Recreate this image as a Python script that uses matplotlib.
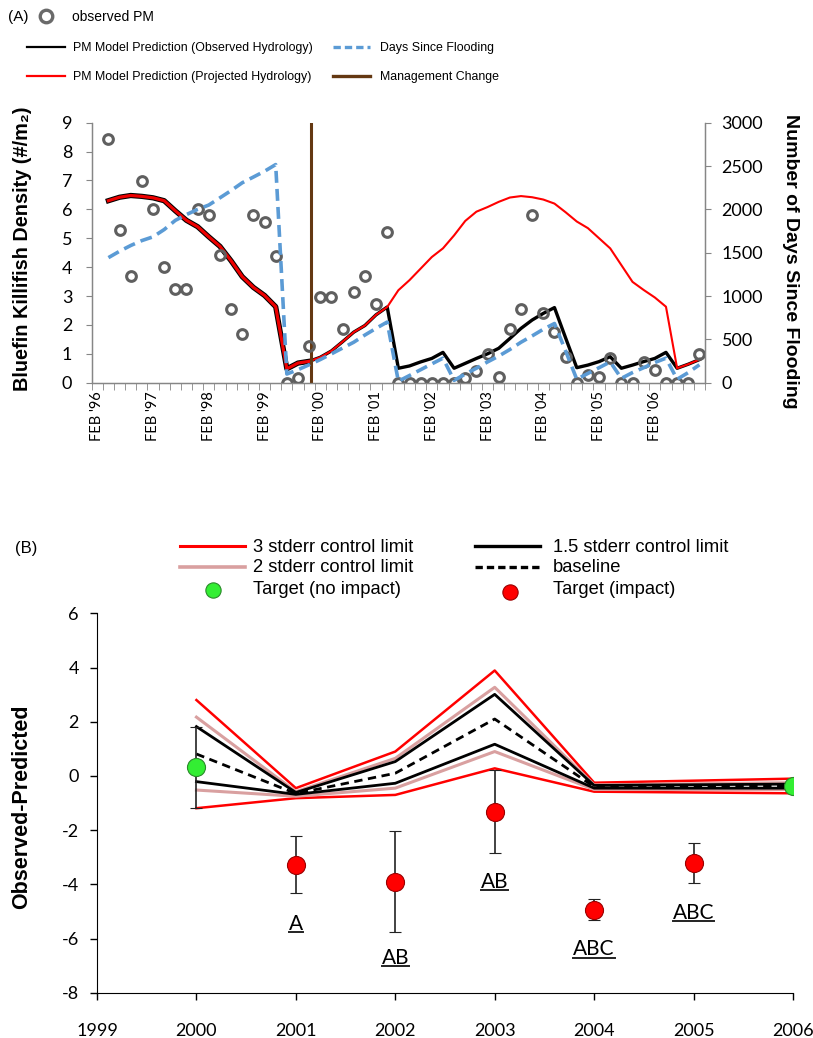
import numpy as np
import matplotlib.pyplot as plt
from matplotlib.lines import Line2D
import matplotlib.patheffects as pe

plt.rcParams['axes.unicode_minus'] = False

W, H = 813, 1038

# ---------------- Panel A data (one value per sampling event) ----------------
sample_idx = list(range(1, 55))
observed_pm = [8.42, 5.28, 3.70, 6.99, 6.00, 4.00, 3.26, 3.26, 6.00, 5.82,
               4.41, 2.56, 1.70, 5.82, 5.55, 4.39, 0.00, 0.15, 1.27, 2.98,
               2.98, 1.85, 3.14, 3.70, 2.71, 5.22, 0.00, 0.00, 0.00, 0.00,
               0.00, 0.00, 0.15, 0.40, 1.00, 0.20, 1.85, 2.56, 5.82, 2.42,
               1.76, 0.88, 0.00, 0.27, 0.20, 0.84, 0.00, 0.00, 0.70, 0.44,
               0.00, 0.00, 0.00, 0.98]
pm_obs_hydro = [6.30, 6.42, 6.48, 6.45, 6.40, 6.30, 5.95, 5.62, 5.40, 5.05,
                4.72, 4.22, 3.67, 3.30, 3.02, 2.63, 0.48, 0.68, 0.74, 0.88,
                1.10, 1.42, 1.75, 1.98, 2.35, 2.62, 0.50, 0.58, 0.72, 0.84,
                1.05, 0.50, 0.67, 0.84, 1.00, 1.19, 1.53, 1.88, 2.17, 2.40,
                2.60, 1.55, 0.52, 0.61, 0.73, 0.90, 0.50, 0.61, 0.73, 0.84,
                1.05, 0.50, 0.64, 0.80]
pm_proj_hydro = [6.30, 6.42, 6.48, 6.45, 6.40, 6.30, 5.95, 5.62, 5.40, 5.05,
                 4.72, 4.22, 3.67, 3.30, 3.02, 2.63, 0.48, 0.68, 0.74, 0.88,
                 1.10, 1.42, 1.75, 1.98, 2.35, 2.62, 3.20, 3.55, 3.95, 4.35,
                 4.65, 5.10, 5.60, 5.92, 6.08, 6.26, 6.41, 6.46, 6.42, 6.34,
                 6.20, 5.90, 5.58, 5.35, 5.00, 4.65, 4.07, 3.49, 3.21, 2.95,
                 2.63, 0.50, 0.64, 0.80]
days_since_flood = [1443, 1517, 1583, 1640, 1683, 1767, 1873, 1940, 2000, 2050,
                    2133, 2217, 2307, 2373, 2440, 2517, 100, 150, 207, 267,
                    333, 400, 467, 550, 627, 700, 17, 83, 150, 217,
                    283, 27, 100, 167, 240, 307, 383, 467, 540, 617,
                    683, 367, 40, 107, 173, 240, 50, 117, 173, 233,
                    283, 40, 117, 207]
mgmt_change_idx = 19.2
pre_change_n = 19  # thick red segment before the management change
feb_label_idx = [0, 5, 10, 15, 20, 25, 30, 35, 40, 45, 50]
feb_labels = ["FEB '96", "FEB '97", "FEB '98", "FEB '99", "FEB '00", "FEB '01",
              "FEB '02", "FEB '03", "FEB '04", "FEB '05", "FEB '06"]

# ---------------- Panel B data ----------------
limit_years = [2000, 2001, 2002, 2003, 2004, 2006]
ucl_3 = [2.80, -0.45, 0.90, 3.89, -0.25, -0.10]
lcl_3 = [-1.19, -0.82, -0.70, 0.28, -0.58, -0.64]
ucl_2 = [2.17, -0.58, 0.65, 3.27, -0.33, -0.25]
lcl_2 = [-0.52, -0.75, -0.45, 0.90, -0.50, -0.50]
ucl_15 = [1.82, -0.61, 0.53, 3.01, -0.35, -0.30]
lcl_15 = [-0.21, -0.68, -0.27, 1.17, -0.45, -0.45]
baseline = [0.81, -0.65, 0.10, 2.10, -0.40, -0.38]

noimp_years = [2000, 2006]
noimp_vals = [0.34, -0.37]
noimp_lo = [-1.19, -0.37]
noimp_hi = [1.82, -0.37]

imp_years = [2001, 2002, 2003, 2004, 2005]
imp_vals = [-3.28, -3.90, -1.32, -4.96, -3.22]
imp_lo = [-4.33, -5.75, -2.85, -5.30, -3.96]
imp_hi = [-2.21, -2.03, 0.22, -4.55, -2.48]
group_letters = ['A', 'AB', 'AB', 'ABC', 'ABC']
letter_y = [-5.45, -6.7, -3.9, -6.4, -5.05]

tick_font = 'Lato'
lab_font = 'Liberation Sans'
leg_font = 'Liberation Sans'
grey = '#868686'

fig = plt.figure(figsize=(W / 100, H / 100), dpi=100)

def fx(x):
    return x / W

def fy(y):
    return 1 - y / H

# ================= Panel A =================
axa = fig.add_axes([fx(91.7), fy(382.7), (705 - 91.7) / W, 260 / H])
axa2 = axa.twinx()

axa.plot(sample_idx, pm_obs_hydro, color='black', lw=2.4, solid_joinstyle='round', zorder=2)
axa.plot(sample_idx[:pre_change_n], pm_proj_hydro[:pre_change_n], color='#ee0000', lw=2.3,
         solid_joinstyle='round', zorder=3,
         path_effects=[pe.Stroke(linewidth=3.8, foreground='black'), pe.Normal()])
axa.plot(sample_idx[pre_change_n - 1:], pm_proj_hydro[pre_change_n - 1:], color='#ff0000', lw=1.5,
         solid_joinstyle='round', zorder=3)
axa.axvline(mgmt_change_idx, color='#643812', lw=2.2, zorder=4)
axa.plot(sample_idx, observed_pm, linestyle='none', marker='o', ms=7, mfc='none',
         mec='#5f5f5f', mew=2.2, zorder=5)

axa2.plot(sample_idx, days_since_flood, color='#5b9bd5', lw=2.6, dashes=(3.3, 1.7))

axa.set_xlim(-0.5, 54.5)
axa.set_ylim(0, 9)
axa2.set_ylim(0, 3000)
axa.set_yticks(range(0, 10))
axa2.set_yticks(range(0, 3001, 500))
axa.set_xticks(feb_label_idx)
axa.set_xticklabels(feb_labels, rotation=90, fontsize=10.5, fontfamily=tick_font)
axa.set_xticks(np.arange(-0.5, 55, 1), minor=True)
axa.tick_params(axis='x', which='major', length=0, pad=6)
axa.tick_params(axis='x', which='minor', length=5, color=grey, direction='out')
axa.tick_params(axis='y', length=4, color=grey, labelsize=13, pad=10)
axa2.tick_params(axis='y', length=4, color=grey, labelsize=13, pad=8)
for lbl in axa.get_yticklabels() + axa2.get_yticklabels():
    lbl.set_fontfamily(tick_font)
for a in (axa, axa2):
    a.spines['top'].set_visible(False)
    for s in ('left', 'right', 'bottom'):
        a.spines[s].set_color(grey)
        a.spines[s].set_linewidth(0.9)

axa.set_ylabel('Bluefin Killifish Density (#/m\u2082)', fontsize=14.3, fontweight='bold',
               fontfamily=[lab_font, 'DejaVu Sans'])
axa.yaxis.set_label_coords(-0.098, 0.515)
axa2.set_ylabel('Number of Days Since Flooding', fontsize=14, fontweight='bold',
                fontfamily=lab_font, rotation=270, va='center')
axa2.yaxis.set_label_coords(1.139, 0.465)

# legend A (drawn in figure coordinates)
fig.text(fx(8), fy(17), '(A)', fontsize=11, fontfamily=leg_font, va='center')
fig.add_artist(Line2D([fx(46)], [fy(16)], marker='o', ms=9, mfc='none', mec='#6a6a6a', mew=2.4,
                      transform=fig.transFigure))
fig.text(fx(72), fy(17), 'observed PM', fontsize=10, fontfamily=leg_font, va='center')
leg_a = [
    (27, 65, 47, dict(color='black', lw=1.6), 73, 'PM Model Prediction (Observed Hydrology)'),
    (27, 65, 76, dict(color='#ff0000', lw=1.6), 73, 'PM Model Prediction (Projected Hydrology)'),
    (333, 370, 47, dict(color='#5b9bd5', lw=2.4, dashes=(2.2, 1.2)), 380, 'Days Since Flooding'),
    (333, 370, 76, dict(color='#643812', lw=2.4), 380, 'Management Change'),
]
for x0, x1, y, style, tx, text in leg_a:
    fig.add_artist(Line2D([fx(x0), fx(x1)], [fy(y), fy(y)], transform=fig.transFigure, **style))
    fig.text(fx(tx), fy(y + 1), text, fontsize=8.9, fontfamily=leg_font, va='center')

# ================= Panel B =================
axb = fig.add_axes([fx(97), fy(992.8), 696 / W, (992.8 - 613.3) / H])

axb.plot(limit_years, ucl_3, color='#ff0000', lw=1.8, zorder=2)
axb.plot(limit_years, lcl_3, color='#ff0000', lw=1.8, zorder=2)
axb.plot(limit_years, ucl_2, color='#d9a0a0', lw=2.2, zorder=2)
axb.plot(limit_years, lcl_2, color='#d9a0a0', lw=2.2, zorder=2)
axb.plot(limit_years, ucl_15, color='black', lw=2.0, zorder=3)
axb.plot(limit_years, lcl_15, color='black', lw=2.0, zorder=3)
axb.plot(limit_years, baseline, color='black', lw=2.0, dashes=(3, 2), zorder=3)

noimp_err = [np.subtract(noimp_vals, noimp_lo), np.subtract(noimp_hi, noimp_vals)]
imp_err = [np.subtract(imp_vals, imp_lo), np.subtract(imp_hi, imp_vals)]
axb.errorbar(noimp_years, noimp_vals, yerr=noimp_err, fmt='o', ms=13, mfc='#33ee33',
             mec='#2a8a2a', mew=0.8, ecolor='#222222', elinewidth=1.2, capsize=4, zorder=5)
axb.errorbar(imp_years, imp_vals, yerr=imp_err, fmt='o', ms=13, mfc='#ff0000',
             mec='#9a0000', mew=0.8, ecolor='#222222', elinewidth=1.2, capsize=4, zorder=5)

letter_texts = []
for yr, txt, yy in zip(imp_years, group_letters, letter_y):
    letter_texts.append(axb.text(yr, yy, txt, ha='center', va='center', fontsize=15,
                                 fontfamily=tick_font))

axb.set_xlim(1999, 2006)
axb.set_ylim(-8, 6)
axb.set_xticks(range(1999, 2007))
axb.set_yticks(range(-8, 7, 2))
axb.tick_params(axis='x', length=5, width=1, direction='out', pad=17, labelsize=13)
axb.tick_params(axis='y', length=5, width=1, direction='out', pad=8, labelsize=13)
for lbl in axb.get_xticklabels() + axb.get_yticklabels():
    lbl.set_fontfamily(tick_font)
axb.spines['top'].set_visible(False)
axb.spines['right'].set_visible(False)
axb.set_ylabel('Observed-Predicted', fontsize=15.5, fontweight='bold', fontfamily=lab_font)
axb.yaxis.set_label_coords(-0.093, 0.49)

# legend B
fig.text(fx(15), fy(548), '(B)', fontsize=12, fontfamily=leg_font, va='center')
leg_b_lines = [
    (180, 245, 546, dict(color='#ff0000', lw=2.2), 253, '3 stderr control limit'),
    (180, 245, 567, dict(color='#d9a0a0', lw=2.6), 253, '2 stderr control limit'),
    (475, 540, 546, dict(color='black', lw=2.4), 553, '1.5 stderr control limit'),
    (475, 540, 567, dict(color='black', lw=2.4, dashes=(2.2, 1.2)), 553, 'baseline'),
]
for x0, x1, y, style, tx, text in leg_b_lines:
    fig.add_artist(Line2D([fx(x0), fx(x1)], [fy(y), fy(y)], transform=fig.transFigure, **style))
    fig.text(fx(tx), fy(y + 1), text, fontsize=13.2, fontfamily=leg_font, va='center')
fig.add_artist(Line2D([fx(213)], [fy(590)], marker='o', ms=11, mfc='#33ee33', mec='#2a8a2a',
                      mew=0.8, transform=fig.transFigure))
fig.text(fx(253), fy(589), 'Target (no impact)', fontsize=13.2, fontfamily=leg_font, va='center')
fig.add_artist(Line2D([fx(510)], [fy(592)], marker='o', ms=11, mfc='#ff0000', mec='#9a0000',
                      mew=0.8, transform=fig.transFigure))
fig.text(fx(553), fy(590), 'Target (impact)', fontsize=13.2, fontfamily=leg_font, va='center')

# underline the group letters
fig.canvas.draw()
renderer = fig.canvas.get_renderer()
inv = axb.transData.inverted()
for t in letter_texts:
    bb = t.get_window_extent(renderer)
    (x0, y0), (x1, y1) = inv.transform([(bb.x0, bb.y0), (bb.x1, bb.y1)])
    axb.plot([x0, x1], [y0 + 0.05, y0 + 0.05], color='#222222', lw=1.4)

fig.savefig('out.png', dpi=100)
